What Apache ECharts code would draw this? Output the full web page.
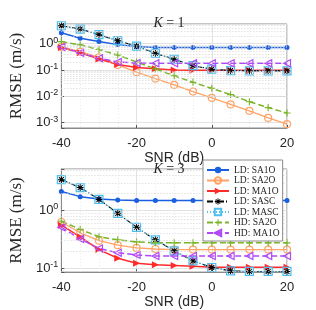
<!DOCTYPE html>
<html><head><meta charset="utf-8">
<script src="https://cdn.jsdelivr.net/npm/echarts@6/dist/echarts.min.js"></script>
<style>html,body{margin:0;padding:0;background:#fff}#c{width:316px;height:310px}</style>
</head><body><div id="c"></div>
<script>
// ---- data ----
const snr = [-40, -35, -30, -25, -20, -15, -10, -5, 0, 5, 10, 15, 20];
const xTickLabels = ['-40', '-20', '0', '20'];
const seriesNames = ['LD: SA1O', 'LD: SA2O', 'LD: MA1O', 'LD: SASC', 'LD: MASC', 'HD: SA2O', 'HD: MA1O'];
const titles = ['K = 1', 'K = 3'];

// K = 1
const ldSA1O_k1 = [2.6, 1.6, 1.2, 0.92, 0.78, 0.72, 0.71, 0.71, 0.71, 0.71, 0.71, 0.71, 0.71];
const ldSA2O_k1 = [0.76, 0.5, 0.3, 0.155, 0.082, 0.047, 0.027, 0.015, 0.0086, 0.0049, 0.0028, 0.0015, 0.00087];
const ldMA1O_k1 = [0.72, 0.45, 0.26, 0.16, 0.125, 0.11, 0.1, 0.098, 0.097, 0.097, 0.097, 0.097, 0.097];
const ldSASC_k1 = [4.8, 3.6, 2.2, 1.3, 0.8, 0.43, 0.255, 0.145, 0.107, 0.094, 0.092, 0.092, 0.092];
const ldMASC_k1 = [4.8, 3.6, 2.2, 1.3, 0.8, 0.43, 0.255, 0.145, 0.107, 0.094, 0.092, 0.092, 0.092];
const hdSA2O_k1 = [1.2, 0.9, 0.6, 0.37, 0.2, 0.11, 0.06, 0.034, 0.02, 0.0115, 0.0062, 0.0037, 0.0023];
const hdMA1O_k1 = [0.75, 0.45, 0.28, 0.2, 0.185, 0.18, 0.18, 0.18, 0.18, 0.18, 0.18, 0.18, 0.18];

// K = 3
const ldSA1O_k3 = [2.13, 1.73, 1.58, 1.52, 1.48, 1.48, 1.48, 1.48, 1.48, 1.48, 1.48, 1.48, 1.48];
const ldSA2O_k3 = [0.63, 0.41, 0.3, 0.25, 0.224, 0.215, 0.21, 0.21, 0.21, 0.21, 0.21, 0.21, 0.21];
const ldMA1O_k3 = [0.555, 0.35, 0.21, 0.149, 0.122, 0.115, 0.112, 0.108, 0.104, 0.104, 0.104, 0.104, 0.104];
const ldSASC_k3 = [3.4, 2.48, 1.55, 0.89, 0.51, 0.31, 0.2, 0.134, 0.103, 0.09, 0.088, 0.088, 0.088];
const ldMASC_k3 = [3.4, 2.48, 1.55, 0.89, 0.51, 0.31, 0.2, 0.134, 0.103, 0.09, 0.088, 0.088, 0.088];
const hdSA2O_k3 = [0.65, 0.47, 0.35, 0.31, 0.285, 0.275, 0.275, 0.275, 0.275, 0.275, 0.275, 0.275, 0.275];
const hdMA1O_k3 = [0.51, 0.32, 0.22, 0.185, 0.17, 0.163, 0.163, 0.163, 0.163, 0.163, 0.163, 0.163, 0.163];

const yRanges = [[0.00062, 5.6], [0.0857, 5.2]];
const minorMantissas = [2, 3, 4, 5, 6, 7, 8, 9];
const minorDecades = [0.0001, 0.001, 0.01, 0.1, 1];

// ---- styling ----
const STAR = 'path://M4.3,0H5.7V10H4.3Z M0,4.3H10V5.7H0Z M1,2L2,1L9,8L8,9Z M8,1L9,2L2,9L1,8Z';
const PLUS = 'path://M4.2,0H5.8V10H4.2Z M0,4.2H10V5.8H0Z';
const styles = [
  {color: '#1a5fe0', symbol: 'circle', size: 5, fill: '#1a5fe0', type: 'solid', w: 1.5},
  {color: '#ffa366', symbol: 'circle', size: 7, fill: 'rgba(0,0,0,0)', type: 'solid', w: 1.3},
  {color: '#ff2a2a', symbol: 'triangle', size: 7, fill: '#ff2a2a', type: 'solid', w: 1.5, rot: -90},
  {color: '#000000', symbol: STAR, size: 7, fill: '#000000', type: [6, 2, 1, 2], w: 1.1},
  {color: '#4dbeee', symbol: 'rect', size: 8, fill: 'rgba(0,0,0,0)', type: [1, 2], w: 1.4},
  {color: '#7ab528', symbol: PLUS, size: 7, fill: '#7ab528', type: [6, 3], w: 1.5},
  {color: '#b048f8', symbol: 'triangle', size: 7, fill: 'rgba(0,0,0,0)', type: [6, 3], w: 1.5, rot: 90}
];
const dataSets = [
  [ldSA1O_k1, ldSA2O_k1, ldMA1O_k1, ldSASC_k1, ldMASC_k1, hdSA2O_k1, hdMA1O_k1],
  [ldSA1O_k3, ldSA2O_k3, ldMA1O_k3, ldSASC_k3, ldMASC_k3, hdSA2O_k3, hdMA1O_k3]
];

const grids = [
  {left: 41, top: 24, width: 246, height: 104},
  {left: 41, top: 169, width: 246, height: 106}
];
const TXT = '#262626';

function sciLabel(v) {
  const e = Math.log10(v);
  const r = Math.round(e);
  if (Math.abs(e - r) > 1e-6) return '';
  return '{b|10}{s|' + r + '}';
}

const xAxes = [], yAxes = [], series = [], titleArr = [];
grids.forEach((g, i) => {
  g.show = true; g.borderColor = '#8a8a8a'; g.borderWidth = 1; g.containLabel = false;
  xAxes.push({
    type: 'value', gridIndex: i, min: -40, max: 20, interval: 20,
    name: 'SNR (dB)', nameLocation: 'middle', nameGap: i === 0 ? 23 : 22,
    nameTextStyle: {fontFamily: 'Liberation Sans', fontSize: 14, color: TXT},
    axisLine: {show: true, onZero: false, lineStyle: {color: '#8a8a8a'}},
    axisTick: {inside: true, length: 3, lineStyle: {color: '#555'}},
    axisLabel: {fontFamily: 'Liberation Sans', fontSize: 13, color: TXT, margin: 9,
      formatter: v => xTickLabels[[-40, -20, 0, 20].indexOf(v)] ?? ''},
    splitLine: {show: true, lineStyle: {color: '#e2e2e2', width: 1}},
    minorTick: {show: false, splitNumber: 4},
    minorSplitLine: {show: true, lineStyle: {color: '#ececec', type: [1, 2]}}
  });
  yAxes.push({
    type: 'log', logBase: 10, gridIndex: i, min: yRanges[i][0], max: yRanges[i][1],
    name: 'RMSE (m/s)', nameLocation: 'middle', nameGap: 33, nameRotate: 90,
    nameTextStyle: {fontFamily: 'Liberation Serif', fontSize: 17, color: TXT},
    axisLine: {show: true, onZero: false, lineStyle: {color: '#8a8a8a'}},
    axisTick: {inside: true, length: 3, lineStyle: {color: '#555'}},
    axisLabel: {margin: 3, formatter: sciLabel,
      rich: {
        b: {fontFamily: 'Liberation Sans', fontSize: 13, color: TXT, lineHeight: 16},
        s: {fontFamily: 'Liberation Sans', fontSize: 9, color: TXT, lineHeight: 7, verticalAlign: 'top'}
      }},
    splitLine: {show: true, lineStyle: {color: '#e2e2e2', width: 1}}
  });
  titleArr.push({
    text: '{i|K} = ' + titles[i].split('= ')[1], left: 164, textAlign: 'center',
    top: i === 0 ? 11 : 157,
    textStyle: {fontFamily: 'Liberation Serif', fontSize: 14, fontWeight: 'normal', color: TXT,
      rich: {i: {fontFamily: 'Liberation Serif', fontStyle: 'italic', fontSize: 14, color: TXT}}}
  });
  // minor log grid lines
  const minorVals = [];
  minorDecades.forEach(d => minorMantissas.forEach(m => {
    const v = d * m;
    if (v > yRanges[i][0] && v < yRanges[i][1]) minorVals.push(v);
  }));
  series.push({
    type: 'line', xAxisIndex: i, yAxisIndex: i, data: [], silent: true, z: 1,
    markLine: {silent: true, symbol: 'none', label: {show: false}, animation: false,
      lineStyle: {color: '#d6d6d6', type: [1, 2], width: 1},
      data: minorVals.map(v => ({yAxis: v}))}
  });
  dataSets[i].forEach((arr, k) => {
    const s = styles[k];
    series.push({
      name: seriesNames[k], type: 'line', xAxisIndex: i, yAxisIndex: i, z: 2, zlevel: 0,
      data: snr.map((x, j) => [x, arr[j]]),
      symbol: s.symbol, symbolSize: s.size, symbolRotate: s.rot || 0, showAllSymbol: true,
      lineStyle: {color: s.color, width: s.w, type: s.type},
      itemStyle: {color: s.fill, borderColor: s.color, borderWidth: (s.fill === s.color) ? 0 : 1.2},
      emphasis: {disabled: true}
    });
  });
});

const chart = echarts.init(document.getElementById('c'), null, {renderer: 'canvas'});
chart.setOption({
  animation: false,
  backgroundColor: '#fff',
  title: titleArr,
  grid: grids,
  xAxis: xAxes,
  yAxis: yAxes,
  legend: {
    data: seriesNames, orient: 'vertical', left: 203, top: 160, z: 20,
    backgroundColor: '#fff', borderColor: '#8a8a8a', borderWidth: 1,
    padding: [5, 3, 3, 3], itemWidth: 22, itemHeight: 8, itemGap: 0.5,
    textStyle: {fontFamily: 'Liberation Serif', fontSize: 9.5, color: TXT},
    selectedMode: false
  },
  series: series
});
</script></body></html>
